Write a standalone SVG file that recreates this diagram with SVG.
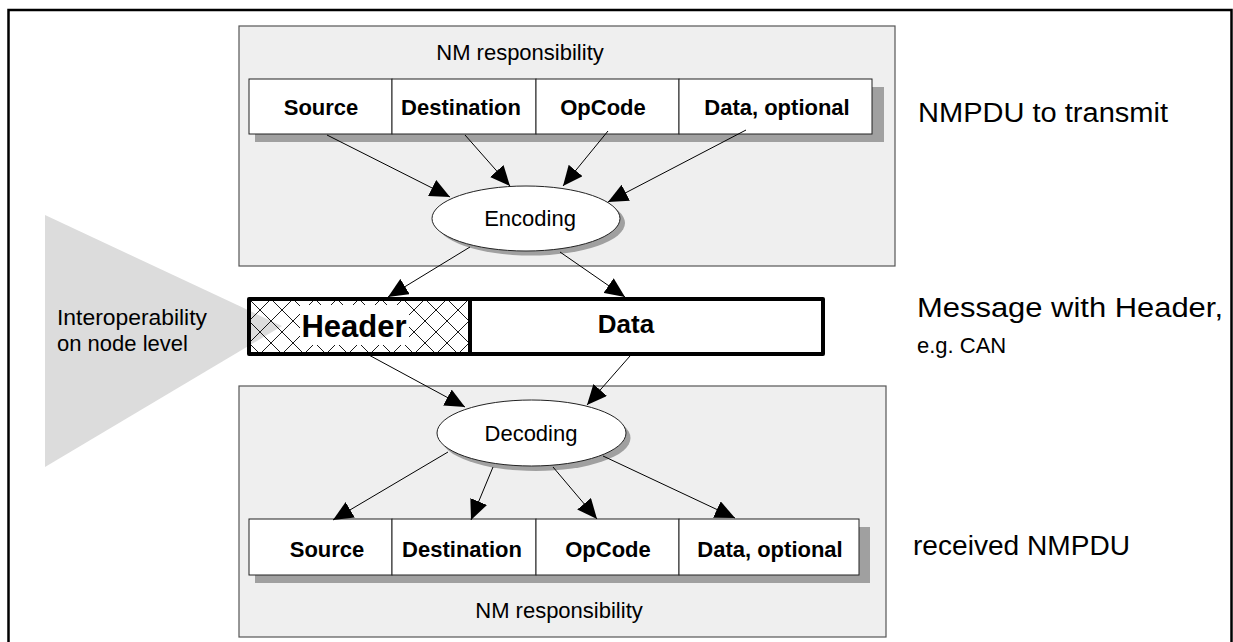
<svg xmlns="http://www.w3.org/2000/svg" width="1233" height="642" viewBox="0 0 1233 642">
<style>
.frame{fill:none;stroke:#000;stroke-width:2.5}
.panel{fill:#efefef;stroke:#555;stroke-width:1.2}
.shadow{fill:#a0a0a0}
.cell{fill:#fff;stroke:#222;stroke-width:1}
.fld{font-family:"Liberation Sans",Arial,sans-serif;font-weight:bold;font-size:22px;text-anchor:middle;fill:#000}
.lbl{font-family:"Liberation Sans",Arial,sans-serif;font-size:22px;fill:#000}
.big{font-family:"Liberation Sans",Arial,sans-serif;font-size:27px;fill:#000}
.side{font-family:"Liberation Sans",Arial,sans-serif;font-size:22px;fill:#000}
.ell{fill:#fff;stroke:#222;stroke-width:1}
.conn line{stroke:#000;stroke-width:1;marker-end:url(#ah)}
</style>
<defs>
<marker id="ah" markerWidth="20" markerHeight="18" refX="20" refY="9" orient="auto" markerUnits="userSpaceOnUse">
<path d="M0,0 L20,9 L0,18 Z" fill="#000"/>
</marker>
<pattern id="hatch" width="22" height="22" patternUnits="userSpaceOnUse" x="249" y="299">
<path d="M0,0 L22,22 M22,0 L0,22" stroke="#000" stroke-width="0.9" fill="none"/>
</pattern>
</defs>
<rect class="frame" x="8.5" y="10" width="1223" height="640"/>

<g id="interop">
<polygon points="45,215 282,326 45,467" fill="#dcdcdc"/>
<text class="side" x="57" y="325" textLength="150" lengthAdjust="spacingAndGlyphs">Interoperability</text>
<text class="side" x="57" y="351">on node level</text>
</g>

<g id="tx-panel">
<rect class="panel" x="239" y="26" width="656" height="240"/>
<text class="lbl" x="520" y="60" text-anchor="middle">NM responsibility</text>
<rect class="shadow" x="255" y="87" width="629" height="55"/>
<rect class="cell" x="249" y="79" width="143" height="55"/>
<rect class="cell" x="392" y="79" width="144" height="55"/>
<rect class="cell" x="536" y="79" width="143" height="55"/>
<rect class="cell" x="679" y="79" width="193" height="55"/>
<text class="fld" x="321" y="115">Source</text>
<text class="fld" x="461" y="115">Destination</text>
<text class="fld" x="603" y="115">OpCode</text>
<text class="fld" x="777" y="115">Data, optional</text>
</g>

<g id="encoding">
<ellipse class="shadow" cx="531" cy="223" rx="94" ry="32.5"/>
<ellipse class="ell" cx="526" cy="218.5" rx="94" ry="32.5"/>
<text class="lbl" x="530" y="226" text-anchor="middle">Encoding</text>
</g>

<g id="message">
<rect x="249" y="299" width="222" height="55" fill="url(#hatch)"/>
<rect x="300" y="305" width="109" height="40" fill="#fff"/>
<rect x="249" y="299" width="574" height="55" fill="none" stroke="#000" stroke-width="4" stroke-linejoin="round"/>
<line x1="470" y1="299" x2="470" y2="354" stroke="#000" stroke-width="4"/>
<text x="354" y="337" font-family="Liberation Sans,Arial,sans-serif" font-weight="bold" font-size="31" text-anchor="middle">Header</text>
<text x="626" y="333" font-family="Liberation Sans,Arial,sans-serif" font-weight="bold" font-size="26" text-anchor="middle">Data</text>
</g>

<g id="rx-panel">
<rect class="panel" x="239" y="386" width="647" height="251"/>
<rect class="shadow" x="255" y="527" width="615" height="56"/>
<rect class="cell" x="249" y="519" width="143" height="56"/>
<rect class="cell" x="392" y="519" width="144" height="56"/>
<rect class="cell" x="536" y="519" width="143" height="56"/>
<rect class="cell" x="679" y="519" width="180" height="56"/>
<text class="fld" x="327" y="557">Source</text>
<text class="fld" x="462" y="557">Destination</text>
<text class="fld" x="608" y="557">OpCode</text>
<text class="fld" x="770" y="557">Data, optional</text>
<text class="lbl" x="559" y="618" text-anchor="middle">NM responsibility</text>
</g>

<g id="decoding">
<ellipse class="shadow" cx="536" cy="438" rx="94.5" ry="33"/>
<ellipse class="ell" cx="531.5" cy="433" rx="94.5" ry="33"/>
<text class="lbl" x="531" y="441" text-anchor="middle">Decoding</text>
</g>

<g id="right-labels">
<text class="big" x="918" y="122" textLength="250" lengthAdjust="spacingAndGlyphs">NMPDU to transmit</text>
<text class="big" x="917" y="317" textLength="306" lengthAdjust="spacingAndGlyphs">Message with Header,</text>
<text class="lbl" x="917" y="353" font-size="17">e.g. CAN</text>
<text class="big" x="913" y="555" textLength="217" lengthAdjust="spacingAndGlyphs">received NMPDU</text>
</g>

<g id="connectors" class="conn">
<line x1="327" y1="135" x2="450" y2="197"/>
<line x1="465" y1="135" x2="510" y2="186"/>
<line x1="608" y1="131" x2="563" y2="186"/>
<line x1="746" y1="130" x2="608" y2="202"/>
<line x1="470" y1="247" x2="388" y2="297"/>
<line x1="560" y1="252" x2="625" y2="297"/>
<line x1="367" y1="354" x2="465" y2="407"/>
<line x1="630" y1="356" x2="587" y2="405"/>
<line x1="448" y1="452" x2="333" y2="520"/>
<line x1="493" y1="467" x2="471" y2="520"/>
<line x1="553" y1="467" x2="597" y2="519"/>
<line x1="603" y1="456" x2="735" y2="518"/>
</g>
</svg>
